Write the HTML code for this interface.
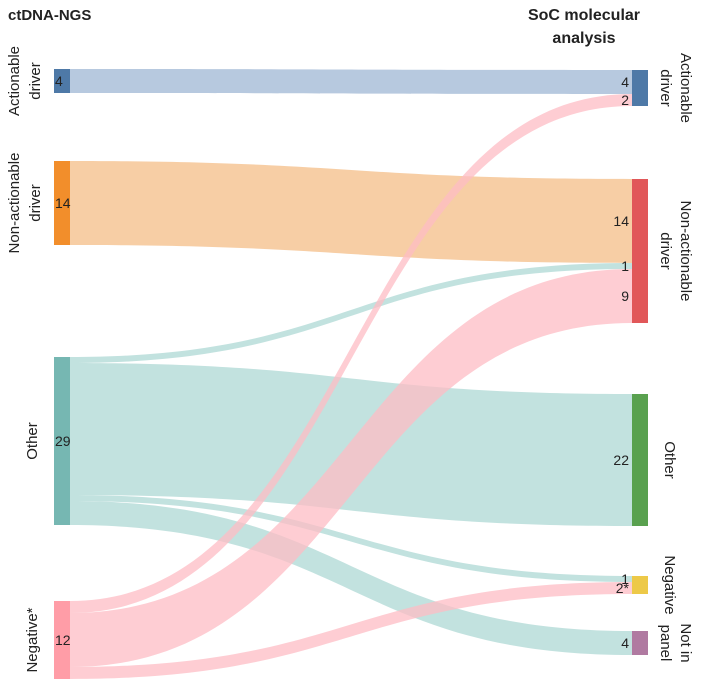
<!DOCTYPE html>
<html><head><meta charset="utf-8"><style>
body{margin:0;background:#fff;}
svg{display:block;font-family:"Liberation Sans",sans-serif;}
</style></head><body>
<svg id="chart" width="704" height="690">
<text x="8" y="20" font-size="15" font-weight="bold" fill="#222">ctDNA-NGS</text>
<text x="584" y="20" font-size="16" font-weight="bold" fill="#222" text-anchor="middle">SoC molecular</text>
<text x="584" y="43" font-size="16" font-weight="bold" fill="#222" text-anchor="middle">analysis</text>
<g id="flows"></g><g id="nodes"></g><g id="labels"></g>
</svg>
<script>
const leftNames=["Actionable driver","Non-actionable driver","Other","Negative*"];
const rightNames=["Actionable driver","Non-actionable driver","Other","Negative","Not in panel"];
const leftLabels=["4","14","29","12"];
const flowSource=[0,1,2,2,2,2,3,3,3];
const flowTarget=[0,1,1,2,3,4,0,1,3];
const flowValue=[4,14,1,22,1,4,2,9,2];
const flowLabels=["4","14","1","22","1","4","2","9","2*"];
const leftTops=[69,161,357,601];
const rightTops=[70,179,394,576,631];
const unit=6;
const leftColors=["#4e79a7","#f28e2b","#76b7b2","#ff9da7"];
const rightColors=["#4e79a7","#e15759","#59a14f","#edc948","#b07aa1"];
const flowColors=["#b3c6dd","#f7cba0","#bfe0dd","#fdbcc4"];
const NS="http://www.w3.org/2000/svg";
const fg=document.getElementById('flows'),ng=document.getElementById('nodes'),lg=document.getElementById('labels');
const x0=70,x1=632;
const lOff=leftTops.slice(),rOff=rightTops.slice();
const lSum=[0,0,0,0],rSum=[0,0,0,0,0];
flowValue.forEach((v,i)=>{lSum[flowSource[i]]+=v;rSum[flowTarget[i]]+=v;});
function txt(x,y,s,anchor,size,name,rot){const t=document.createElementNS(NS,'text');t.setAttribute('x',x);t.setAttribute('y',y);t.setAttribute('font-size',size);t.setAttribute('fill','#222');t.setAttribute('text-anchor',anchor);if(rot)t.setAttribute('transform',rot);t.textContent=s;


lg.appendChild(t);return t;}
const pos=[];
flowValue.forEach((v,i)=>{const h=v*unit;const ys=lOff[flowSource[i]];lOff[flowSource[i]]+=h;const yt=rOff[flowTarget[i]];rOff[flowTarget[i]]+=h;pos[i]={ys,yt,h};});
flowValue.forEach((v,i)=>{const {ys,yt,h}=pos[i];const m=(x0+x1)/2;
const p=document.createElementNS(NS,'path');
p.setAttribute('d',`M${x0},${ys}C${m},${ys} ${m},${yt} ${x1},${yt}L${x1},${yt+h}C${m},${yt+h} ${m},${ys+h} ${x0},${ys+h}Z`);
p.setAttribute('fill',flowColors[flowSource[i]]);p.setAttribute('fill-opacity',flowSource[i]==3?0.75:0.95);


fg.appendChild(p);
txt(629,yt+h/2+5,flowLabels[i],'end',14,'flow-value-'+i);});
leftNames.forEach((n,i)=>{const r=document.createElementNS(NS,'rect');r.setAttribute('x',54);r.setAttribute('y',leftTops[i]);r.setAttribute('width',16);r.setAttribute('height',lSum[i]*unit);r.setAttribute('fill',leftColors[i]);


ng.appendChild(r);
txt(55,leftTops[i]+lSum[i]*unit/2+5,leftLabels[i],'start',14,'left-node-value-'+i);
const c=leftTops[i]+lSum[i]*unit/2;const words=n.split(' ');
if(words.length>1){txt(19,c,words[0],'middle',15,'left-label-'+i,`rotate(-90 19 ${c})`);txt(40,c,words[1],'middle',15,'left-label2-'+i,`rotate(-90 40 ${c})`);}
else txt(37,c,n,'middle',15,'left-label-'+i,`rotate(-90 37 ${c})`);});
rightNames.forEach((n,i)=>{const r=document.createElementNS(NS,'rect');r.setAttribute('x',632);r.setAttribute('y',rightTops[i]);r.setAttribute('width',16);r.setAttribute('height',rSum[i]*unit);r.setAttribute('fill',rightColors[i]);


ng.appendChild(r);
const c=rightTops[i]+rSum[i]*unit/2;const parts=i==0?["Actionable","driver"]:i==1?["Non-actionable","driver"]:i==4?["Not in","panel"]:[n];
if(parts.length>1){txt(681,c,parts[0],'middle',15,'right-label-'+i,`rotate(90 681 ${c})`);txt(661,c,parts[1],'middle',15,'right-label2-'+i,`rotate(90 661 ${c})`);}
else txt(665,c,n,'middle',15,'right-label-'+i,`rotate(90 665 ${c})`);});
</script>
</body></html>
